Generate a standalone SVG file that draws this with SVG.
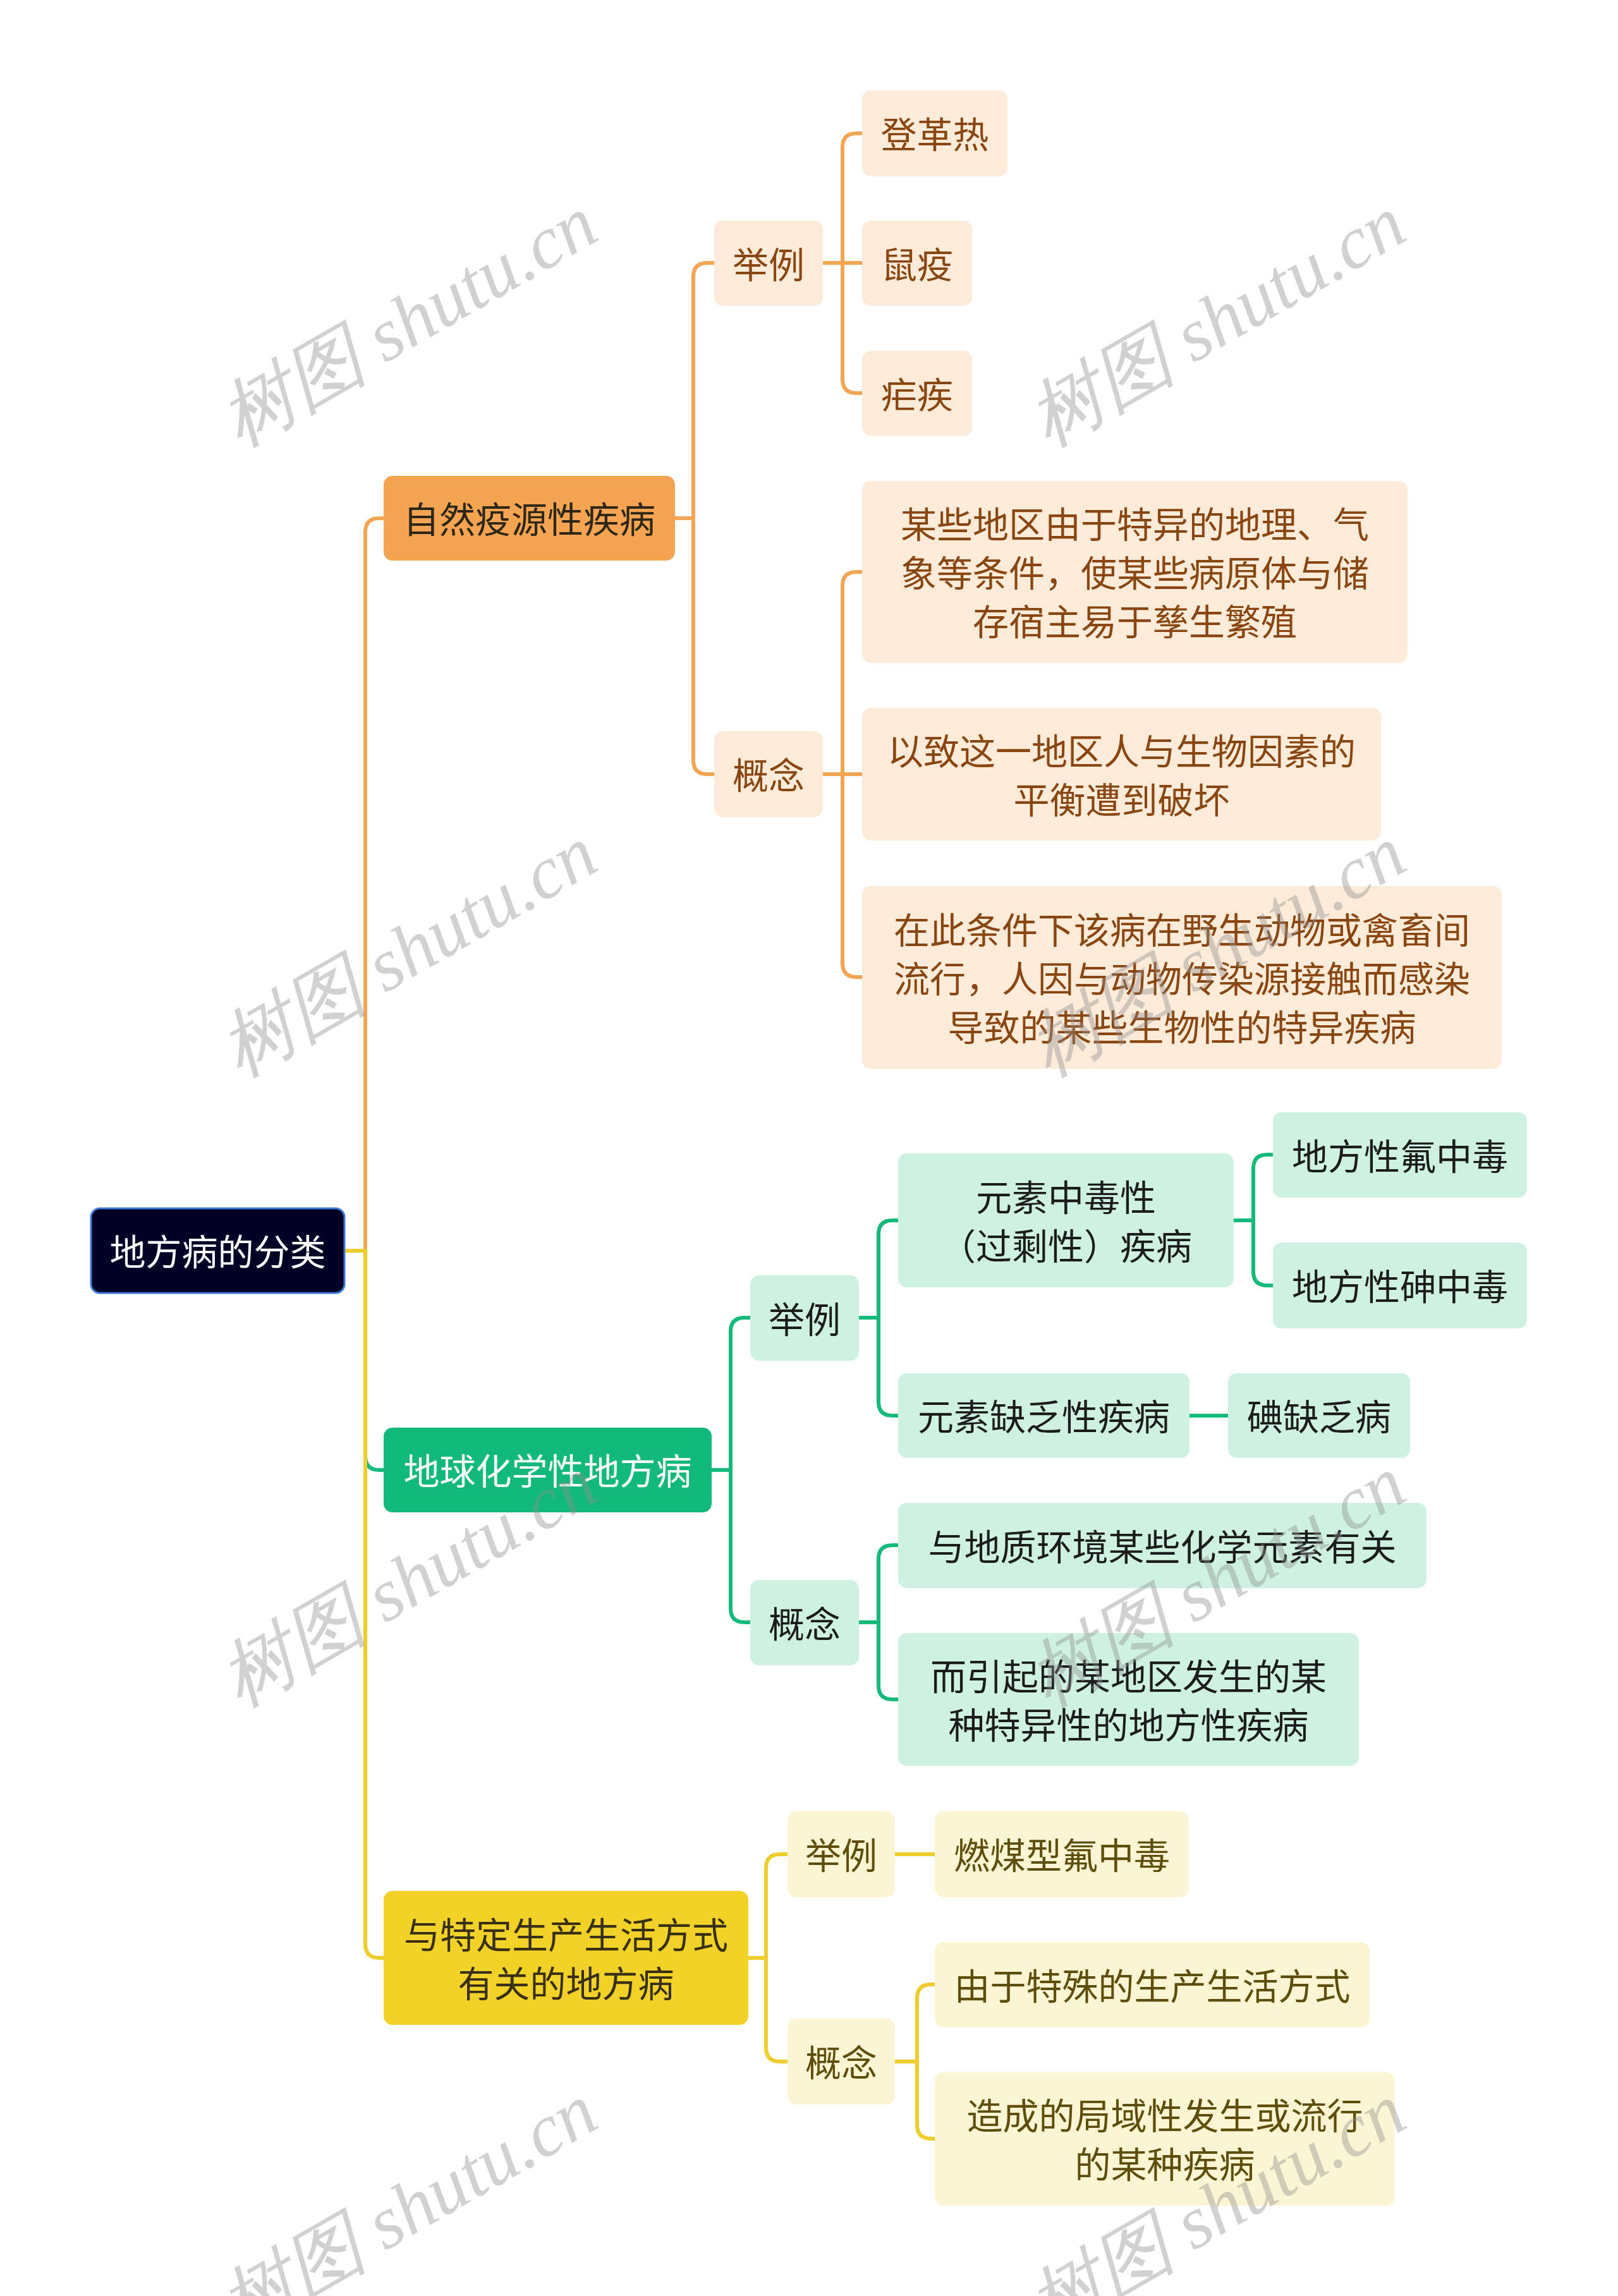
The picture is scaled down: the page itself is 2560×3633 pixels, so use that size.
<svg xmlns="http://www.w3.org/2000/svg" width="2560" height="3633" viewBox="0 0 2560 3633">
<style>
text{font-family:"Noto Sans CJK SC","Noto Sans",sans-serif;font-size:57px;text-anchor:middle;dominant-baseline:central}
.c{fill:none;stroke-width:6;stroke-linecap:round;stroke-linejoin:round}
.co{stroke:#F2A552}.cg{stroke:#14B97C}.cy{stroke:#EFCD2C}
.o1{fill:#F5A452}.o2{fill:#FDEBDA}.g1{fill:#12B97B}.g2{fill:#CEF1E2}.y1{fill:#F2D228}.y2{fill:#FCF5D3}
.to1{fill:#2E2718}.to2{fill:#8A4610}.tg1{fill:#FFFFFF}.tg2{fill:#1C1C1C}.ty1{fill:#383015}.ty2{fill:#5E4E0C}
.wm{font-family:"Liberation Serif",serif;font-style:italic;font-size:118px;fill:#8f8f8f;opacity:.4}
</style>
<g id="connectors">
<path class="c co" d="M545 1979H578V842Q578 820 600 820H607"/>
<path class="c cg" d="M545 1979H578V2304Q578 2326 600 2326H607"/>
<path class="c cy" d="M545 1979H578V3076Q578 3098 600 3098H607"/>
<path class="c co" d="M1068 820H1097V438Q1097 416 1119 416H1130"/>
<path class="c co" d="M1068 820H1097V1203Q1097 1225 1119 1225H1130"/>
<path class="c co" d="M1302 416H1333V233Q1333 211 1355 211H1364"/>
<path class="c co" d="M1302 416H1364"/>
<path class="c co" d="M1302 416H1333V600Q1333 622 1355 622H1364"/>
<path class="c co" d="M1302 1225H1333V927Q1333 905 1355 905H1364"/>
<path class="c co" d="M1302 1225H1364"/>
<path class="c co" d="M1302 1225H1333V1524Q1333 1546 1355 1546H1364"/>
<path class="c cg" d="M1126 2326H1156V2107Q1156 2085 1178 2085H1187"/>
<path class="c cg" d="M1126 2326H1156V2545Q1156 2567 1178 2567H1187"/>
<path class="c cg" d="M1359 2085H1390V1953Q1390 1931 1412 1931H1421"/>
<path class="c cg" d="M1359 2085H1390V2218Q1390 2240 1412 2240H1421"/>
<path class="c cg" d="M1952 1931H1983V1849Q1983 1827 2005 1827H2014"/>
<path class="c cg" d="M1952 1931H1983V2012Q1983 2034 2005 2034H2014"/>
<path class="c cg" d="M1882 2240H1943"/>
<path class="c cg" d="M1359 2567H1390V2467Q1390 2445 1412 2445H1421"/>
<path class="c cg" d="M1359 2567H1390V2667Q1390 2689 1412 2689H1421"/>
<path class="c cy" d="M1184 3098H1212V2956Q1212 2934 1234 2934H1246"/>
<path class="c cy" d="M1184 3098H1212V3240Q1212 3262 1234 3262H1246"/>
<path class="c cy" d="M1416 2934H1479"/>
<path class="c cy" d="M1416 3262H1451V3162Q1451 3140 1473 3140H1479"/>
<path class="c cy" d="M1416 3262H1451V3362Q1451 3384 1473 3384H1479"/>
</g>
<g id="root"><rect x="144" y="1912" width="401" height="134" rx="14" fill="#020125" stroke="#3F7AD8" stroke-width="3"/><text x="344.5" y="1977" fill="#FFFFFF">地方病的分类</text></g>
<g id="n-ziran"><rect class="o1" x="607" y="753" width="461" height="134" rx="14"/><text class="to1" x="837.5" y="818">自然疫源性疾病</text></g>
<g id="n-ziran-juli"><rect class="o2" x="1130" y="349" width="172" height="135" rx="14"/><text class="to2" x="1216" y="414.5">举例</text></g>
<g id="n-dengge"><rect class="o2" x="1364" y="143" width="230" height="136" rx="14"/><text class="to2" x="1479" y="209">登革热</text></g>
<g id="n-shuyi"><rect class="o2" x="1364" y="349" width="174" height="135" rx="14"/><text class="to2" x="1451" y="414.5">鼠疫</text></g>
<g id="n-nueji"><rect class="o2" x="1364" y="555" width="174" height="135" rx="14"/><text class="to2" x="1451" y="620.5">疟疾</text></g>
<g id="n-ziran-gainian"><rect class="o2" x="1130" y="1157" width="172" height="136" rx="14"/><text class="to2" x="1216" y="1223">概念</text></g>
<g id="n-z-c1"><rect class="o2" x="1364" y="761" width="863" height="288" rx="14"/><text class="to2" x="1795.5" y="826">某些地区由于特异的地理、气</text><text class="to2" x="1795.5" y="903">象等条件，使某些病原体与储</text><text class="to2" x="1795.5" y="980">存宿主易于孳生繁殖</text></g>
<g id="n-z-c2"><rect class="o2" x="1364" y="1120" width="821" height="210" rx="14"/><text class="to2" x="1774.5" y="1184.5">以致这一地区人与生物因素的</text><text class="to2" x="1774.5" y="1261.5">平衡遭到破坏</text></g>
<g id="n-z-c3"><rect class="o2" x="1364" y="1402" width="1012" height="289" rx="14"/><text class="to2" x="1870" y="1467.5">在此条件下该病在野生动物或禽畜间</text><text class="to2" x="1870" y="1544.5">流行，人因与动物传染源接触而感染</text><text class="to2" x="1870" y="1621.5">导致的某些生物性的特异疾病</text></g>
<g id="n-diqiu"><rect class="g1" x="607" y="2259" width="519" height="134" rx="14"/><text class="tg1" x="866.5" y="2324">地球化学性地方病</text></g>
<g id="n-diqiu-juli"><rect class="g2" x="1187" y="2018" width="172" height="135" rx="14"/><text class="tg2" x="1273" y="2083.5">举例</text></g>
<g id="n-zhongdu"><rect class="g2" x="1421" y="1825" width="531" height="212" rx="14"/><text class="tg2" x="1686.5" y="1890.5">元素中毒性</text><text class="tg2" x="1686.5" y="1967.5">（过剩性）疾病</text></g>
<g id="n-fu"><rect class="g2" x="2014" y="1760" width="402" height="135" rx="14"/><text class="tg2" x="2215" y="1825.5">地方性氟中毒</text></g>
<g id="n-shen"><rect class="g2" x="2014" y="1966" width="402" height="136" rx="14"/><text class="tg2" x="2215" y="2032">地方性砷中毒</text></g>
<g id="n-quefa"><rect class="g2" x="1421" y="2173" width="461" height="134" rx="14"/><text class="tg2" x="1651.5" y="2238">元素缺乏性疾病</text></g>
<g id="n-dian"><rect class="g2" x="1943" y="2173" width="288" height="134" rx="14"/><text class="tg2" x="2087" y="2238">碘缺乏病</text></g>
<g id="n-diqiu-gainian"><rect class="g2" x="1187" y="2500" width="172" height="135" rx="14"/><text class="tg2" x="1273" y="2565.5">概念</text></g>
<g id="n-dizhi"><rect class="g2" x="1421" y="2378" width="836" height="135" rx="14"/><text class="tg2" x="1839" y="2443.5">与地质环境某些化学元素有关</text></g>
<g id="n-yinqi"><rect class="g2" x="1421" y="2584" width="729" height="210" rx="14"/><text class="tg2" x="1785.5" y="2648.5">而引起的某地区发生的某</text><text class="tg2" x="1785.5" y="2725.5">种特异性的地方性疾病</text></g>
<g id="n-teding"><rect class="y1" x="607" y="2992" width="577" height="212" rx="14"/><text class="ty1" x="895.5" y="3057.5">与特定生产生活方式</text><text class="ty1" x="895.5" y="3134.5">有关的地方病</text></g>
<g id="n-teding-juli"><rect class="y2" x="1246" y="2866" width="170" height="136" rx="14"/><text class="ty2" x="1331" y="2932">举例</text></g>
<g id="n-ranmei"><rect class="y2" x="1479" y="2866" width="402" height="136" rx="14"/><text class="ty2" x="1680" y="2932">燃煤型氟中毒</text></g>
<g id="n-teding-gainian"><rect class="y2" x="1246" y="3194" width="170" height="136" rx="14"/><text class="ty2" x="1331" y="3260">概念</text></g>
<g id="n-youyu"><rect class="y2" x="1479" y="3073" width="688" height="135" rx="14"/><text class="ty2" x="1823" y="3138.5">由于特殊的生产生活方式</text></g>
<g id="n-zaocheng"><rect class="y2" x="1479" y="3279" width="728" height="211" rx="14"/><text class="ty2" x="1843" y="3344">造成的局域性发生或流行</text><text class="ty2" x="1843" y="3421">的某种疾病</text></g>
<g id="watermark">
<text class="wm" x="646" y="508" transform="rotate(-30 646 508)">树图 shutu.cn</text>
<text class="wm" x="1925" y="508" transform="rotate(-30 1925 508)">树图 shutu.cn</text>
<text class="wm" x="646" y="1505" transform="rotate(-30 646 1505)">树图 shutu.cn</text>
<text class="wm" x="1925" y="1505" transform="rotate(-30 1925 1505)">树图 shutu.cn</text>
<text class="wm" x="646" y="2502" transform="rotate(-30 646 2502)">树图 shutu.cn</text>
<text class="wm" x="1925" y="2502" transform="rotate(-30 1925 2502)">树图 shutu.cn</text>
<text class="wm" x="646" y="3495" transform="rotate(-30 646 3495)">树图 shutu.cn</text>
<text class="wm" x="1925" y="3495" transform="rotate(-30 1925 3495)">树图 shutu.cn</text>
</g>
</svg>
